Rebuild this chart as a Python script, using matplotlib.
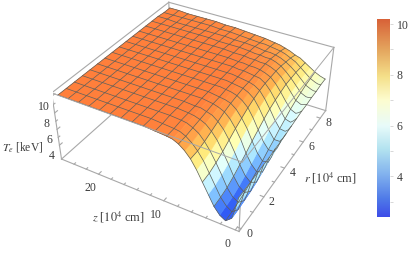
import numpy as np
import matplotlib
matplotlib.use('Agg')
import matplotlib.pyplot as plt
from matplotlib.colors import LinearSegmentedColormap
from mpl_toolkits.mplot3d import proj3d
from mpl_toolkits.mplot3d.art3d import Poly3DCollection

plt.rcParams['font.family'] = ['Liberation Serif', 'DejaVu Serif']
plt.rcParams['mathtext.fontset'] = 'stix'

# ---- datos ----
r_vals = [0, 0.53, 1.06, 1.6, 2.12, 2.65, 3.18, 3.72, 4.25, 4.78, 5.31, 5.84, 6.38, 6.91, 7.44, 7.97, 8.5]
z_vals = [0, 0.4, 0.8, 1.6, 2.4, 3.2, 4.0, 4.8, 5.6, 6.4, 7.2, 8.0, 8.8, 9.6,
          11.2, 12.8, 14.4, 16.0, 17.6, 19.2, 20.8, 22.4, 24.0, 25.6]
z_mesh = [0, 1.6, 3.2, 4.8, 6.4, 8.0, 9.6, 11.2, 12.8, 14.4, 16.0, 17.6, 19.2, 20.8, 22.4, 24.0, 25.6]
# T_e [keV], una fila por cada z, una columna por cada r
Te = [
    [5.8, 5.8, 5.8, 5.8, 5.8, 5.8, 5.9, 5.9, 6.0, 6.1, 6.2, 6.3, 6.3, 6.4, 6.4, 6.5, 6.5],
    [4.2, 4.2, 4.2, 4.3, 4.4, 4.6, 4.8, 5.0, 5.3, 5.5, 5.8, 6.0, 6.2, 6.3, 6.4, 6.5, 6.6],
    [3.0, 3.0, 3.1, 3.2, 3.4, 3.7, 4.0, 4.4, 4.8, 5.2, 5.5, 5.8, 6.1, 6.3, 6.5, 6.6, 6.7],
    [2.4, 2.45, 2.6, 2.8, 3.1, 3.5, 3.9, 4.4, 4.8, 5.3, 5.7, 6.1, 6.4, 6.6, 6.8, 6.9, 7.0],
    [2.8, 2.9, 3.0, 3.3, 3.7, 4.2, 4.7, 5.2, 5.7, 6.2, 6.6, 6.9, 7.2, 7.3, 7.4, 7.4, 7.4],
    [3.6, 3.7, 3.9, 4.3, 4.8, 5.3, 5.9, 6.4, 6.9, 7.3, 7.6, 7.8, 8.0, 8.0, 8.0, 7.9, 7.8],
    [4.8, 4.9, 5.2, 5.6, 6.1, 6.7, 7.2, 7.6, 8.0, 8.3, 8.5, 8.6, 8.7, 8.6, 8.5, 8.4, 8.2],
    [6.0, 6.1, 6.4, 6.8, 7.3, 7.8, 8.2, 8.6, 8.9, 9.1, 9.2, 9.2, 9.2, 9.1, 8.9, 8.7, 8.4],
    [7.2, 7.3, 7.5, 7.9, 8.3, 8.7, 9.0, 9.2, 9.4, 9.5, 9.6, 9.5, 9.5, 9.4, 9.2, 9.0, 8.7],
    [8.2, 8.2, 8.4, 8.7, 9.0, 9.3, 9.5, 9.6, 9.7, 9.7, 9.7, 9.7, 9.7, 9.6, 9.4, 9.2, 8.9],
    [8.9, 8.9, 9.1, 9.3, 9.5, 9.6, 9.7, 9.8, 9.8, 9.8, 9.8, 9.8, 9.7, 9.6, 9.5, 9.3, 9.1],
    [9.4, 9.4, 9.5, 9.6, 9.7, 9.8, 9.8, 9.9, 9.9, 9.9, 9.9, 9.8, 9.8, 9.7, 9.5, 9.4, 9.2],
    [9.7, 9.7, 9.8, 9.8, 9.9, 9.9, 9.9, 10, 10, 10, 9.9, 9.9, 9.8, 9.7, 9.6, 9.5, 9.3],
    [9.8, 9.8, 9.9, 9.9, 9.9, 10, 10, 10, 10, 10, 10, 9.9, 9.9, 9.8, 9.7, 9.5, 9.4],
    [9.9, 9.9, 10, 10, 10, 10, 10, 10, 10, 10, 10, 10, 9.9, 9.9, 9.8, 9.6, 9.5],
    [10, 10, 10, 10, 10, 10, 10, 10, 10, 10, 10, 10, 10, 9.9, 9.8, 9.7, 9.6],
    [10, 10, 10, 10, 10, 10, 10, 10, 10, 10, 10, 10, 10, 9.9, 9.9, 9.8, 9.7],
    [10, 10, 10, 10, 10, 10, 10, 10, 10, 10, 10, 10, 10, 10, 9.9, 9.8, 9.7],
    [10, 10, 10, 10, 10, 10, 10, 10, 10, 10, 10, 10, 10, 10, 9.9, 9.9, 9.8],
    [10, 10, 10, 10, 10, 10, 10, 10, 10, 10, 10, 10, 10, 10, 9.9, 9.9, 9.8],
    [10, 10, 10, 10, 10, 10, 10, 10, 10, 10, 10, 10, 10, 10, 9.9, 9.9, 9.8],
    [10, 10, 10, 10, 10, 10, 10, 10, 10, 10, 10, 10, 10, 10, 9.9, 9.9, 9.8],
    [10, 10, 10, 10, 10, 10, 10, 10, 10, 10, 10, 10, 10, 10, 10, 9.9, 9.9],
    [10, 10, 10, 10, 10, 10, 10, 10, 10, 10, 10, 10, 10, 10, 10, 9.9, 9.9],
]
z_ticks = [0, 2, 4, 6, 8, 10, 12, 14, 16, 18, 20, 22, 24]
z_labels = {0: '0', 10: '10', 20: '20'}
r_ticks = [0, 1, 2, 3, 4, 5, 6, 7, 8]
r_labels = {0: '0', 2: '2', 4: '4', 6: '6', 8: '8'}
T_ticks = [4, 5, 6, 7, 8, 9, 10]
T_labels = {4: '4', 6: '6', 8: '8', 10: '10'}
cb_ticks = [3, 4, 5, 6, 7, 8, 9, 10]
cb_labels = ['', '4', '', '6', '', '8', '', '10']

T_lo, T_hi = 2.2, 10.35
r_lo, r_hi = -0.17, 8.67
z_lo, z_hi = -0.5, 26.1
gris = '#a8a8a8'
txt = '#3c3c3c'

surf_cols = [(0, '#2a4cf2'), (0.09, '#3a6ef8'), (0.21, '#6fb2ff'), (0.34, '#aae6ff'), (0.46, '#e2ffff'),
             (0.59, '#ffffb4'), (0.71, '#ffe878'), (0.84, '#ffb04e'), (1, '#ff7638')]
cb_cols = [(0, '#3d4de8'), (0.09, '#4f7ae8'), (0.21, '#80b0ee'), (0.34, '#b2e2f0'), (0.46, '#e8fbfa'),
           (0.59, '#fdfdd0'), (0.71, '#f5e08a'), (0.84, '#e5a860'), (1, '#d86238')]
mapa_surf = LinearSegmentedColormap.from_list('surf', surf_cols)
mapa_cb = LinearSegmentedColormap.from_list('cb', cb_cols)

fig = plt.figure(figsize=(4.15, 2.54), dpi=100)
ax = fig.add_axes([52.5 / 415, 4.5 / 254, 286.3 / 415, 286.3 / 254], projection='3d')
ax.computed_zorder = False
ax.set_xlim(r_lo, r_hi)
ax.set_ylim(z_lo, z_hi)
ax.set_zlim(T_lo, T_hi)
ax.view_init(elev=35.76, azim=-150.28)
ax.set_proj_type('persp', focal_length=0.455)
ax.set_box_aspect((2.574, 2.469, 1))
ax.set_axis_off()
ax.patch.set_alpha(0)

# -------- caja de atras --------
def linea(p, q, z=1, color=gris, lw=0.8):
    ax.plot([p[0], q[0]], [p[1], q[1]], [p[2], q[2]], color=color, lw=lw, zorder=z)

linea((r_lo, z_hi, T_lo), (r_hi, z_hi, T_lo))
linea((r_hi, z_lo, T_lo), (r_hi, z_hi, T_lo))
linea((r_hi, z_hi, T_lo), (r_hi, z_hi, T_hi))
linea((r_lo, z_hi, T_hi), (r_hi, z_hi, T_hi))
linea((r_hi, z_lo, T_hi), (r_hi, z_hi, T_hi))
linea((r_lo, z_hi, T_lo), (r_lo, z_hi, T_hi))
linea((r_hi, z_lo, T_lo), (r_hi, z_lo, T_hi))
linea((r_lo, z_lo, T_lo), (r_lo, z_hi, T_lo))
linea((r_lo, z_lo, T_lo), (r_hi, z_lo, T_lo))
linea((r_lo, z_lo, T_lo), (r_lo, z_lo, T_hi))

# -------- superficie --------
R, Z = np.meshgrid(r_vals, z_vals)
T = np.array(Te)
polys = []
cols = []
for i in range(len(z_vals) - 1):
    for j in range(len(r_vals) - 1):
        polys.append([(R[i, j], Z[i, j], T[i, j]), (R[i, j + 1], Z[i, j + 1], T[i, j + 1]),
                      (R[i + 1, j + 1], Z[i + 1, j + 1], T[i + 1, j + 1]), (R[i + 1, j], Z[i + 1, j], T[i + 1, j])])
        media = (T[i, j] + T[i, j + 1] + T[i + 1, j + 1] + T[i + 1, j]) / 4
        cols.append(mapa_surf((media - 2.3) / (10.2 - 2.3)))
pc = Poly3DCollection(polys, facecolors=cols, edgecolors=cols, linewidths=0.4, zorder=2)
ax.add_collection3d(pc)

# -------- malla --------
malla = '#5e5e58'
for zm in z_mesh:
    i = z_vals.index(zm)
    ax.plot(R[i], Z[i], T[i], color=malla, lw=0.5, zorder=3)
for j in range(len(r_vals)):
    ax.plot(R[:, j], Z[:, j], T[:, j], color=malla, lw=0.5, zorder=3)

# -------- caja de adelante --------
linea((r_lo, z_lo, T_hi), (r_lo, z_hi, T_hi), z=4, lw=0.7)
linea((r_lo, z_lo, T_hi), (r_hi, z_lo, T_hi), z=4, lw=0.7)

# -------- ticks y etiquetas --------
for zt in z_ticks:
    largo = 0.18 if zt in z_labels else 0.1
    linea((r_lo, zt, T_lo), (r_lo + largo, zt, T_lo), z=1)
for rt in r_ticks:
    largo = 0.5 if rt in r_labels else 0.3
    linea((rt, z_lo, T_lo), (rt, z_lo + largo, T_lo), z=1)
for Tt in T_ticks:
    largo = 0.18 if Tt in T_labels else 0.1
    linea((r_lo, z_hi, Tt), (r_lo + largo, z_hi, Tt), z=1)

M = ax.get_proj()
def etiqueta(x, y, z, texto, dx, dy):
    vx, vy, _ = proj3d.proj_transform(x, y, z, M)
    ax.annotate(texto, (vx, vy), xytext=(dx * 0.72, dy * 0.72), textcoords='offset points',
                ha='center', va='center', fontsize=8.5, color=txt, annotation_clip=False)

for zt, s in z_labels.items():
    etiqueta(r_lo, zt, T_lo, s, -8, -14)
for rt, s in r_labels.items():
    etiqueta(rt, z_lo, T_lo, s, 8, -5)
for Tt, s in T_labels.items():
    etiqueta(r_lo, z_hi, Tt, s, -8, -11)

fig.text(23 / 415, 1 - 147 / 254, '$T_e$ [keV]', ha='center', va='center', fontsize=8.3, color=txt)
fig.text(118 / 415, 1 - 217 / 254, '$z$ [$10^4$ cm]', ha='center', va='center', fontsize=8.8, color=txt)
fig.text(330 / 415, 1 - 178 / 254, '$r$ [$10^4$ cm]', ha='center', va='center', fontsize=8.8, color=txt)

# -------- barra de color --------
cax = fig.add_axes([377 / 415, 1 - 217 / 254, 13 / 415, 198 / 254])
niveles = np.linspace(1, 0, 256).reshape(-1, 1)
cax.imshow(niveles, aspect='auto', cmap=mapa_cb, vmin=0, vmax=1, extent=[0, 1, 2.4, 10.2])
cax.set_xticks([])
cax.yaxis.tick_right()
cax.set_yticks(cb_ticks)
cax.set_yticklabels(cb_labels, fontsize=8.5, color=txt)
cax.tick_params(axis='y', length=2, width=0.5, color='#c8c8c8', pad=3)
for lado in cax.spines.values():
    lado.set_visible(False)

fig.savefig('out.png', dpi=100)
